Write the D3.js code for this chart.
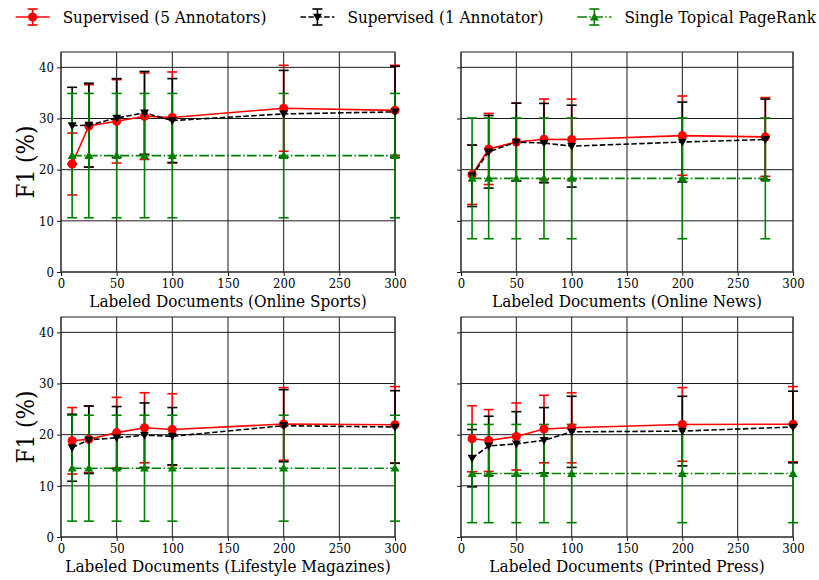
<!DOCTYPE html>
<html>
<head>
<meta charset="utf-8">
<script src="https://cdn.jsdelivr.net/npm/d3@7"></script>
<style>
  body { margin: 0; background: #fff; }
  svg text { font-family: "DejaVu Serif Condensed", "DejaVu Serif", serif; font-stretch: condensed; fill: #000; }
</style>
</head>
<body>
<svg id="chart" width="819" height="580"></svg>
<script>
// x positions (number of labeled documents)
const sportsX = [10, 25, 50, 75, 100, 200, 300];
const newsX = [10, 25, 50, 75, 100, 200, 275];
const lifestyleX = [10, 25, 50, 75, 100, 200, 300];
const pressX = [10, 25, 50, 75, 100, 200, 300];

// Supervised (5 Annotators): mean and error
const sports5 = [21.1, 28.55, 29.45, 30.45, 30.2, 32.0, 31.6];
const sports5Err = [6.05, 8.05, 8.15, 8.45, 8.9, 8.4, 8.8];
const news5 = [19.0, 24.05, 25.4, 25.95, 25.9, 26.65, 26.4];
const news5Err = [5.8, 6.95, 7.6, 7.85, 7.9, 7.75, 7.7];
const lifestyle5 = [18.8, 19.1, 20.4, 21.35, 21.0, 22.1, 21.95];
const lifestyle5Err = [6.5, 6.5, 6.9, 6.85, 7.0, 7.1, 7.45];
const press5 = [19.2, 18.85, 19.65, 21.1, 21.35, 22.0, 22.05];
const press5Err = [6.45, 6.05, 6.55, 6.6, 6.85, 7.2, 7.35];

// Supervised (1 Annotator): mean and error
const sports1 = [28.6, 28.7, 30.1, 31.1, 29.6, 30.9, 31.3];
const sports1Err = [7.5, 8.2, 7.7, 8.1, 8.2, 8.5, 8.9];
const news1 = [18.8, 23.5, 25.4, 25.2, 24.6, 25.4, 25.9];
const news1Err = [6.0, 7.1, 7.6, 7.75, 8.0, 7.8, 7.9];
const lifestyle1 = [17.45, 19.0, 19.4, 19.9, 19.7, 21.75, 21.5];
const lifestyle1Err = [6.55, 6.6, 6.1, 6.3, 5.6, 7.05, 7.1];
const press1 = [15.4, 17.8, 18.2, 18.9, 20.55, 20.7, 21.5];
const press1Err = [5.6, 5.8, 6.3, 6.4, 6.95, 6.8, 7.0];

// Single Topical PageRank (constant over x): mean and error
const sportsPR = 22.75, sportsPRErr = 12.15;
const newsPR = 18.3, newsPRErr = 11.8;
const lifestylePR = 13.45, lifestylePRErr = 10.35;
const pressPR = 12.4, pressPRErr = 9.6;

const xTicks = [0, 50, 100, 150, 200, 250, 300];
const yTicks = [0, 10, 20, 30, 40];

const seriesNames = ["Supervised (5 Annotators)", "Supervised (1 Annotator)", "Single Topical PageRank"];
const seriesColors = ["#ff0000", "#000000", "#008000"];
const seriesDash = [null, "5.5,2.4", "9.6,2.4,1.5,2.4"];
const seriesMarker = ["circle", "down", "up"];

const panelLabels = ["Labeled Documents (Online Sports)", "Labeled Documents (Online News)",
  "Labeled Documents (Lifestyle Magazines)", "Labeled Documents (Printed Press)"];

const panels = [
  { box: [61, 395, 52, 272], xs: sportsX, s5: sports5, e5: sports5Err, s1: sports1, e1: sports1Err, pr: sportsPR, prE: sportsPRErr, yLabels: true },
  { box: [461, 793, 52, 272], xs: newsX, s5: news5, e5: news5Err, s1: news1, e1: news1Err, pr: newsPR, prE: newsPRErr, yLabels: false },
  { box: [61, 395, 317, 537], xs: lifestyleX, s5: lifestyle5, e5: lifestyle5Err, s1: lifestyle1, e1: lifestyle1Err, pr: lifestylePR, prE: lifestylePRErr, yLabels: true },
  { box: [461, 793, 317, 537], xs: pressX, s5: press5, e5: press5Err, s1: press1, e1: press1Err, pr: pressPR, prE: pressPRErr, yLabels: false }
];

const svg = d3.select("#chart");

function markerPath(kind, size) {
  const h = size * 0.5;
  if (kind === "up") return `M0,${-h}L${h},${h * 0.75}L${-h},${h * 0.75}Z`;
  if (kind === "down") return `M0,${h}L${h},${-h * 0.75}L${-h},${-h * 0.75}Z`;
  return d3.symbol().type(d3.symbolCircle).size(size * size * 0.8)();
}

panels.forEach((p, i) => {
  const [l, r, t, b] = p.box;
  const x = d3.scaleLinear().domain([0, 300]).range([l, r]);
  const y = d3.scaleLinear().domain([0, 43]).range([b, t]);
  const g = svg.append("g");

  // grid
  g.selectAll("line.gx").data(xTicks).enter().append("line")
    .attr("x1", d => x(d)).attr("x2", d => x(d)).attr("y1", t).attr("y2", b)
    .attr("stroke", "#000").attr("stroke-width", 0.9);
  g.selectAll("line.gy").data(yTicks).enter().append("line")
    .attr("x1", l).attr("x2", r).attr("y1", d => y(d)).attr("y2", d => y(d))
    .attr("stroke", "#000").attr("stroke-width", 0.9);

  // axes
  const xAxis = d3.axisBottom(x).tickValues(xTicks).tickSize(4).tickPadding(3);
  const gx = g.append("g").attr("transform", `translate(0,${b})`).call(xAxis);
  const yAxis = d3.axisLeft(y).tickValues(yTicks).tickSize(4).tickPadding(3);
  if (!p.yLabels) yAxis.tickFormat("");
  const gy = g.append("g").attr("transform", `translate(${l},0)`).call(yAxis);
  [gx, gy].forEach(a => {
    a.select(".domain").remove();
    a.selectAll("line").attr("stroke", "#000").attr("stroke-width", 0.9);
    a.selectAll("text").style("font-size", "13px").attr("fill", "#222");
  });

  // frame
  g.append("rect").attr("x", l).attr("y", t).attr("width", r - l).attr("height", b - t)
    .attr("fill", "none").attr("stroke", "#333").attr("stroke-width", 1.1);

  g.append("text").attr("x", (l + r) / 2).attr("y", b + 35)
    .attr("text-anchor", "middle").style("font-size", "17px").text(panelLabels[i]);

  if (p.yLabels) {
    g.append("text").attr("transform", `translate(34,${(t + b) / 2}) rotate(-90)`)
      .attr("text-anchor", "middle").style("font-size", "24px")
      .text("F1 (%)");
  }

  const series = [
    p.xs.map((d, k) => ({ x: d, v: p.s5[k], e: p.e5[k] })),
    p.xs.map((d, k) => ({ x: d, v: p.s1[k], e: p.e1[k] })),
    p.xs.map(d => ({ x: d, v: p.pr, e: p.prE }))
  ];

  // error bars first (below data lines)
  series.forEach((s, j) => {
    const eb = g.append("g").attr("stroke", seriesColors[j]).attr("stroke-width", 1.6);
    s.forEach(d => {
      eb.append("line").attr("x1", x(d.x)).attr("x2", x(d.x)).attr("y1", y(d.v - d.e)).attr("y2", y(d.v + d.e));
      [d.v - d.e, d.v + d.e].forEach(c => {
        eb.append("line").attr("x1", x(d.x) - 5).attr("x2", x(d.x) + 5).attr("y1", y(c)).attr("y2", y(c));
      });
    });
  });

  // lines and markers
  series.forEach((s, j) => {
    g.append("path").datum(s)
      .attr("d", d3.line().x(d => x(d.x)).y(d => y(d.v)))
      .attr("fill", "none").attr("stroke", seriesColors[j]).attr("stroke-width", 1.6)
      .attr("stroke-dasharray", seriesDash[j]);
    g.selectAll(null).data(s).enter().append("path")
      .attr("d", markerPath(seriesMarker[j], 9))
      .attr("transform", d => `translate(${x(d.x)},${y(d.v)})`)
      .attr("fill", seriesColors[j]);
  });
});

// legend: laid out right-to-left from the right edge, like a centred 3-column legend
const legend = svg.append("g");
const handleLen = 34, handlePad = 13, colSpace = 34, legendRight = 816;
const items = seriesNames.map((name, j) => {
  const lg = legend.append("g");
  const txt = lg.append("text").attr("y", 0).attr("dy", "0.35em")
    .style("font-size", "17px").text(name);
  return { lg, txt, w: txt.node().getComputedTextLength(), j };
});
let cursor = legendRight;
for (let k = items.length - 1; k >= 0; k--) {
  const it = items[k];
  const textX = cursor - it.w;
  const hx = textX - handlePad - handleLen;
  it.lg.attr("transform", `translate(${hx},17)`);
  it.txt.attr("x", handleLen + handlePad);
  const c = seriesColors[it.j];
  it.lg.append("line").attr("x1", 0).attr("x2", handleLen).attr("y1", 0).attr("y2", 0)
    .attr("stroke", c).attr("stroke-width", 1.6).attr("stroke-dasharray", seriesDash[it.j]);
  const mx = handleLen / 2;
  it.lg.append("line").attr("x1", mx).attr("x2", mx).attr("y1", -8).attr("y2", 8)
    .attr("stroke", c).attr("stroke-width", 1.6);
  [-8, 8].forEach(cy => it.lg.append("line").attr("x1", mx - 5).attr("x2", mx + 5).attr("y1", cy).attr("y2", cy)
    .attr("stroke", c).attr("stroke-width", 1.6));
  it.lg.append("path").attr("d", markerPath(seriesMarker[it.j], 9)).attr("transform", `translate(${mx},0)`)
    .attr("fill", c);
  cursor = hx - colSpace;
}
</script>
</body>
</html>
